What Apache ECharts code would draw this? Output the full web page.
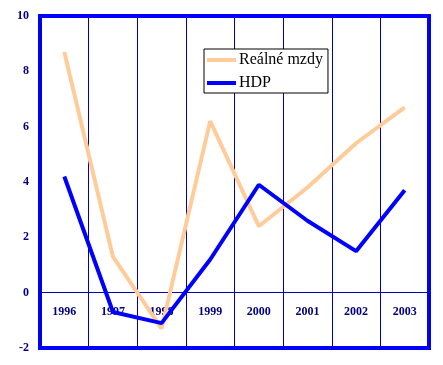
<!DOCTYPE html>
<html><head><meta charset="utf-8">
<script src="https://cdn.jsdelivr.net/npm/echarts@6/dist/echarts.min.js"></script>
<style>html,body{margin:0;padding:0;background:#fff}#c{width:443px;height:365px}</style>
</head><body><div id="c"></div>
<script>
var years = ['1996','1997','1998','1999','2000','2001','2002','2003'];
var realneMzdy = [8.7, 1.3, -1.3, 6.2, 2.4, 3.8, 5.4, 6.7];
var hdp = [4.2, -0.7, -1.1, 1.2, 3.9, 2.6, 1.5, 3.7];
var yTicks = [-2, 0, 2, 4, 6, 8, 10];

var chart = echarts.init(document.getElementById('c'));
chart.setOption({
  animation: false,
  backgroundColor: '#fff',
  grid: { left: 40, right: 14, top: 16, bottom: 17, show: true, borderColor: '#0000ff', borderWidth: 4,
          backgroundColor: 'transparent', outerBoundsMode: 'none', containLabel: false },
  legend: {
    orient: 'vertical', left: 204, top: 49,
    backgroundColor: '#fff', borderColor: '#000', borderWidth: 1,
    padding: [3, 5, 2, 3], itemGap: 7, itemWidth: 29, itemHeight: 4,
    textStyle: { fontFamily: 'Liberation Serif', fontSize: 16, lineHeight: 16, color: '#000', padding: [0,0,0,-2] },
    data: [{ name: 'Reálné mzdy', icon: 'rect' }, { name: 'HDP', icon: 'rect' }]
  },
  xAxis: {
    type: 'category', data: years, boundaryGap: true,
    axisLine: { onZero: true, lineStyle: { color: '#0000bb', width: 1 } },
    axisTick: { show: false },
    splitLine: { show: true, lineStyle: { color: '#0000bb', width: 1 } },
    axisLabel: { margin: -42, fontFamily: 'Liberation Serif', fontWeight: 'bold', fontSize: 12, color: '#000080' }
  },
  yAxis: {
    type: 'value', min: yTicks[0], max: yTicks[yTicks.length-1], interval: 2,
    axisLine: { show: false }, axisTick: { show: false }, splitLine: { show: false },
    axisLabel: { margin: 11, fontFamily: 'Liberation Serif', fontWeight: 'bold', fontSize: 12, color: '#000080' }
  },
  series: [
    { name: 'Reálné mzdy', type: 'line', data: realneMzdy, symbol: 'none', color: '#ffcc99',
      lineStyle: { color: '#ffcc99', width: 4 } },
    { name: 'HDP', type: 'line', data: hdp, symbol: 'none', color: '#0000ff',
      lineStyle: { color: '#0000ff', width: 4 } }
  ]
});
</script></body></html>
